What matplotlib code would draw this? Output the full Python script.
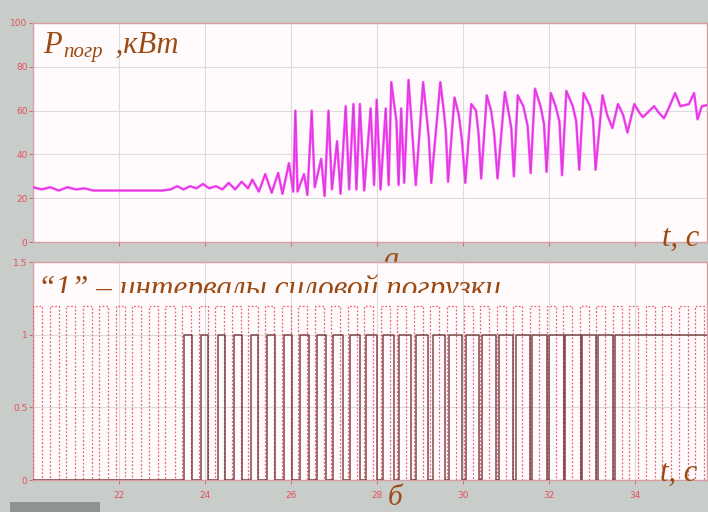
import matplotlib
matplotlib.use('Agg')
import matplotlib.pyplot as plt
from matplotlib.patches import Rectangle
from matplotlib.transforms import Bbox, TransformedBbox

# --- data ---
# top trace: loading power, kW
t_power = [20.00, 20.20, 20.40, 20.60, 20.80, 21.00, 21.20, 21.40, 21.80, 22.50,
           23.00, 23.20, 23.35, 23.50, 23.65, 23.80, 23.95, 24.10, 24.25, 24.40,
           24.55, 24.70, 24.85, 25.00, 25.10, 25.25, 25.40, 25.55, 25.70, 25.80,
           25.95, 26.05, 26.10, 26.15, 26.30, 26.38, 26.48, 26.55, 26.70, 26.78,
           26.87, 26.95, 27.07, 27.15, 27.27, 27.35, 27.45, 27.52, 27.60, 27.70,
           27.85, 27.93, 27.99, 28.08, 28.20, 28.27, 28.33, 28.45, 28.50, 28.56,
           28.63, 28.73, 28.80, 28.90, 29.07, 29.15, 29.20, 29.26, 29.47, 29.55,
           29.60, 29.65, 29.80, 29.90, 29.97, 30.05, 30.19, 30.30, 30.36, 30.42,
           30.55, 30.65, 30.72, 30.80, 30.97, 31.05, 31.12, 31.18, 31.27, 31.40,
           31.50, 31.57, 31.67, 31.80, 31.88, 31.94, 32.04, 32.15, 32.24, 32.30,
           32.40, 32.55, 32.63, 32.70, 32.80, 32.95, 33.02, 33.08, 33.24, 33.35,
           33.47, 33.60, 33.72, 33.82, 33.98, 34.10, 34.18, 34.44, 34.55, 34.67,
           34.80, 34.93, 35.05, 35.25, 35.37, 35.45, 35.55, 35.67]
p_power = [25.0, 24.0, 25.0, 23.5, 25.0, 24.0, 24.5, 23.5, 23.5, 23.5,
           23.5, 24.0, 25.5, 24.0, 25.5, 24.5, 26.5, 24.5, 25.5, 24.0,
           27.0, 24.0, 27.5, 24.5, 28.5, 23.0, 31.0, 22.5, 31.5, 22.0,
           36.0, 23.0, 60.0, 23.0, 31.0, 21.5, 60.0, 25.0, 38.0, 21.0,
           60.0, 24.0, 46.0, 22.0, 62.0, 24.0, 63.0, 24.0, 63.0, 23.5,
           61.0, 26.0, 65.0, 24.0, 61.0, 26.0, 73.0, 55.0, 26.0, 61.0,
           27.0, 74.0, 55.0, 26.0, 73.0, 58.0, 48.0, 27.0, 73.0, 60.0,
           50.0, 27.5, 66.0, 58.0, 47.0, 27.0, 63.0, 60.0, 49.0, 29.0,
           67.0, 60.0, 50.0, 29.0, 68.5, 60.0, 52.0, 30.0, 67.0, 62.0,
           53.0, 31.5, 70.0, 62.0, 54.0, 32.0, 68.0, 62.0, 55.0, 30.5,
           69.0, 62.0, 55.0, 33.0, 68.0, 62.0, 56.0, 33.0, 67.0, 58.0,
           52.0, 63.0, 58.0, 50.0, 63.0, 59.0, 57.0, 62.0, 59.0, 56.5,
           62.0, 68.0, 62.0, 63.0, 68.0, 56.0, 62.0, 62.5]

# bottom trace: reference clock (dotted), 0 -> 1.2
clock_rise = [20.00, 20.39, 20.77, 21.16, 21.54, 21.93, 22.31, 22.70, 23.08, 23.47,
              23.85, 24.24, 24.62, 25.01, 25.39, 25.78, 26.16, 26.55, 26.93, 27.32,
              27.70, 28.09, 28.47, 28.86, 29.24, 29.63, 30.01, 30.40, 30.78, 31.17,
              31.55, 31.94, 32.32, 32.71, 33.09, 33.48, 33.86, 34.25, 34.63, 35.02,
              35.40]
clock_fall = [20.21, 20.60, 20.98, 21.37, 21.75, 22.14, 22.52, 22.91, 23.29, 23.68,
              24.06, 24.45, 24.83, 25.22, 25.60, 25.99, 26.37, 26.76, 27.14, 27.53,
              27.91, 28.30, 28.68, 29.07, 29.45, 29.84, 30.22, 30.61, 30.99, 31.38,
              31.76, 32.15, 32.53, 32.92, 33.30, 33.69, 34.07, 34.46, 34.84, 35.23,
              35.61]
clock_level = 1.2

# bottom trace: "1" = power loading intervals
load_rise = [23.52, 23.90, 24.29, 24.67, 25.06, 25.44, 25.83, 26.21, 26.60, 26.98,
             27.37, 27.75, 28.14, 28.52, 28.91, 29.29, 29.68, 30.06, 30.45, 30.83,
             31.22, 31.60, 31.99, 32.37, 32.76, 33.14, 33.53]
load_fall = [23.69, 24.07, 24.46, 24.85, 25.24, 25.63, 26.02, 26.41, 26.81, 27.20,
             27.60, 27.99, 28.39, 28.78, 29.18, 29.57, 29.97, 30.36, 30.76, 31.15,
             31.55, 31.94, 32.34, 32.73, 33.10, 33.48]

x_ticks = [22, 24, 26, 28, 30, 32, 34]
p_ticks = [0, 20, 40, 60, 80, 100]
s_ticks = [0, 0.5, 1, 1.5]
t_start, t_end = 20.0, 35.67

BG = '#c9cdc9'
TXT = '#9c4a12'
TICK = '#e2505c'
GRID = '#dcdcdc'
SPINE = '#d4a0a4'


def steps(rises, falls, level, t0, t1):
    xs, ys = [t0], [0]
    for i, r in enumerate(rises):
        xs += [r, r]
        ys += [0, level]
        if i < len(falls):
            xs += [falls[i], falls[i]]
            ys += [level, 0]
    xs.append(t1)
    ys.append(ys[-1])
    return xs, ys


def style(ax, yticks, ylabels):
    ax.set_facecolor('#fffbfc')
    ax.set_xlim(t_start, t_end)
    ax.set_xticks(x_ticks)
    ax.set_yticks(yticks)
    ax.set_yticklabels(ylabels)
    ax.grid(True, color=GRID, lw=0.8)
    ax.tick_params(colors=TICK, labelsize=6.5, length=3, width=0.6, pad=1)
    for s in ax.spines.values():
        s.set_color(SPINE)
        s.set_linewidth(1.0)


fig = plt.figure(figsize=(7.08, 5.12), dpi=100, facecolor=BG)

W, H = 708.0, 512.0


def fx(x):
    return x / W


def fy(y):
    return 1 - y / H


ax1 = fig.add_axes([fx(33), fy(242), 674 / W, 219 / H])
ax2 = fig.add_axes([fx(33), fy(480), 674 / W, 218 / H])

# top panel
style(ax1, p_ticks, [str(v) for v in p_ticks])
ax1.set_ylim(0, 100)
ax1.set_xticklabels([])
ax1.plot(t_power, p_power, color='#ff44ff', lw=1.8, zorder=3)
ax1.plot(t_power, p_power, color='#8e3c8e', lw=0.5, alpha=0.55, zorder=4)

# bottom panel
style(ax2, s_ticks, ['0', '0.5', '1', '1.5'])
ax2.set_ylim(0, 1.5)
ax2.set_xticklabels([str(v) for v in x_ticks])
ax2.tick_params(axis='x', pad=5)
cx, cy = steps(clock_rise, clock_fall, clock_level, t_start, t_end)
ax2.plot(cx, cy, color='#ee6070', lw=0.9, ls=(0, (1.5, 1.5)), zorder=3)
lx, ly = steps(load_rise, load_fall, 1.0, t_start, t_end)
ax2.plot(lx, ly, color='#6a2a2a', lw=1.1, alpha=0.85, zorder=4)

# labels
serif = dict(family='Liberation Serif', style='italic', color=TXT)
fig.text(fx(43), fy(53), 'P', fontsize=22, va='baseline', **serif)
fig.text(fx(63), fy(57), 'погр', fontsize=15, va='baseline', **serif)
fig.text(fx(108), fy(53), ' ,кВт', fontsize=22, va='baseline', **serif)
fig.text(fx(662), fy(246), 't, c', fontsize=22, va='baseline', **serif)
fig.text(fx(383), fy(268), 'а', fontsize=22, va='baseline', zorder=-1, **serif)
cap = fig.text(fx(38), fy(297), '“1” – интервалы силовой погрузки', fontsize=22.5,
               va='baseline', zorder=5, **serif)
cap.set_clip_box(TransformedBbox(Bbox([[0, fy(293)], [1, 1]]), fig.transFigure))
cap.set_clip_on(True)
fig.text(fx(660), fy(481), 't, c', fontsize=22, va='baseline', **serif)
fig.text(fx(388), fy(511), 'б', fontsize=21, va='bottom', **serif)

# status bar stub, bottom left
fig.patches.append(Rectangle((fx(10), 0), 90 / W, 10 / H, transform=fig.transFigure,
                             facecolor='#8f938f', edgecolor='none'))

fig.savefig('out.png', dpi=100, facecolor=BG)
